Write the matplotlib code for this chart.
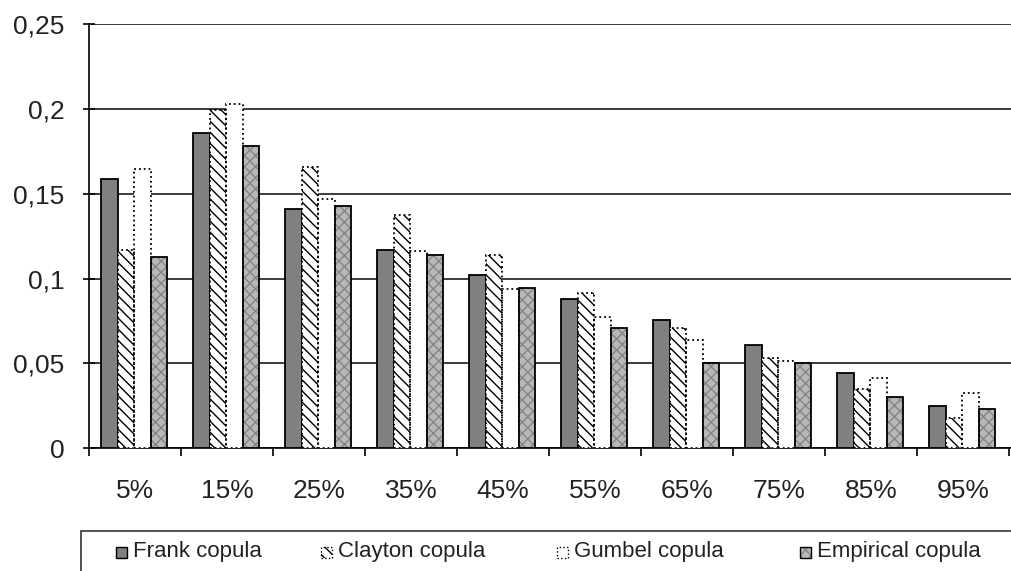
import matplotlib
matplotlib.use("Agg")
import matplotlib.pyplot as plt
from matplotlib.patches import Rectangle
import numpy as np

plt.rcParams["font.family"] = ["Liberation Sans", "DejaVu Sans"]
plt.rcParams["hatch.linewidth"] = 1.0

categories = ["5%", "15%", "25%", "35%", "45%", "55%", "65%", "75%", "85%", "95%"]
series = ["Frank copula", "Clayton copula", "Gumbel copula", "Empirical copula"]
frank = [0.159, 0.186, 0.141, 0.117, 0.102, 0.088, 0.0755, 0.061, 0.044, 0.0248]
clayton = [0.117, 0.1993, 0.166, 0.1375, 0.1138, 0.0916, 0.071, 0.0529, 0.0346, 0.0175]
gumbel = [0.1645, 0.203, 0.147, 0.116, 0.0936, 0.0774, 0.0637, 0.0515, 0.0411, 0.0326]
empirical = [0.1127, 0.178, 0.1428, 0.1137, 0.0942, 0.0706, 0.0503, 0.050, 0.0303, 0.0228]
yticks = [0, 0.05, 0.1, 0.15, 0.2, 0.25]
ytick_labels = ["0", "0,05", "0,1", "0,15", "0,2", "0,25"]

# (face, hatch, hatch colour, edge linestyle)
styles = [
    ("#808080", None, None, "-"),
    ("white", "\\\\\\", "black", ":"),
    ("white", None, None, ":"),
    ("#b8b8b8", "xxx", "#858585", "-"),
]

W, H = 1011, 571
fig = plt.figure(figsize=(W / 100, H / 100), dpi=100)
ax = fig.add_axes([89 / W, 1 - 448 / H, (W - 89) / W, 424 / H])

x = np.arange(len(categories))
bw = 0.18
data = [frank, clayton, gumbel, empirical]
for j, (vals, (fc, hatch, hc, ls)) in enumerate(zip(data, styles)):
    pos = x + 0.13 + bw / 2 + j * bw
    if hatch:
        ax.bar(pos, vals, bw, facecolor=fc, hatch=hatch, edgecolor=hc,
               linewidth=0, zorder=3)
        ax.bar(pos, vals, bw, facecolor="none", edgecolor="black",
               linewidth=1.3, linestyle=ls, zorder=4)
    else:
        ax.bar(pos, vals, bw, facecolor=fc, edgecolor="black",
               linewidth=1.3, linestyle=ls, zorder=3)

ax.set_xlim(0, (W - 89) / 92)
ax.set_ylim(0, 0.2502)
ax.set_yticks(yticks)
ax.set_yticklabels(ytick_labels)
ax.set_xticks(np.arange(0, 11))
ax.set_xticklabels([])
ax.set_xticks(x + 0.5, minor=True)
ax.set_xticklabels(categories, minor=True)

ax.yaxis.grid(True, color="#1a1a1a", linewidth=1.2, zorder=0)
ax.set_axisbelow(True)
for s in ("top", "right"):
    ax.spines[s].set_visible(False)
for s in ("left", "bottom"):
    ax.spines[s].set_color("black")
    ax.spines[s].set_linewidth(1.2)

ax.tick_params(axis="y", direction="inout", length=9, width=1.2,
               labelsize=19, pad=13, labelcolor="#222222")
ax.tick_params(axis="x", which="major", direction="out", length=6, width=1.2)
ax.tick_params(axis="x", which="minor", length=0, labelsize=19, pad=22,
               labelcolor="#222222")

# legend box running off the bottom/right edge
fig.patches.append(Rectangle((81 / W, -0.05), 1.0, 1 - 531 / H + 0.05,
                             transform=fig.transFigure, facecolor="none",
                             edgecolor="#333333", linewidth=1.2))
leg_x = [116, 321, 557, 800]
for lx, name, (fc, hatch, hc, ls) in zip(leg_x, series, styles):
    y0 = 1 - 558 / H
    if hatch:
        fig.patches.append(Rectangle((lx / W, y0), 11 / W, 11 / H,
                                     transform=fig.transFigure, facecolor=fc,
                                     hatch=hatch, edgecolor=hc, linewidth=0))
    fig.patches.append(Rectangle((lx / W, y0), 11 / W, 11 / H,
                                 transform=fig.transFigure,
                                 facecolor="none" if hatch else fc,
                                 edgecolor="black", linewidth=1.0, linestyle=ls))
    fig.text((lx + 17) / W, 1 - 551 / H, name, fontsize=16, color="#222222",
             ha="left", va="center")

fig.savefig("out.png", dpi=100)
